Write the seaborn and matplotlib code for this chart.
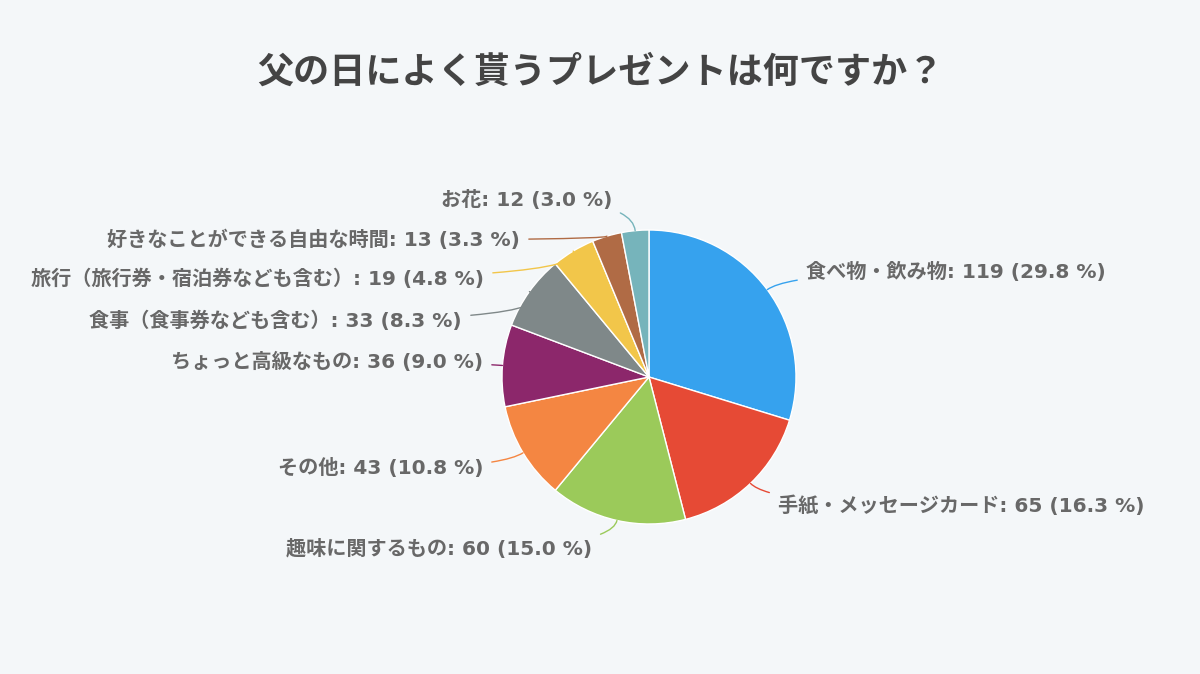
import numpy as np
import matplotlib
matplotlib.use("Agg")
import matplotlib.pyplot as plt
import seaborn as sns

# data
categories = [
    "食べ物・飲み物",
    "手紙・メッセージカード",
    "趣味に関するもの",
    "その他",
    "ちょっと高級なもの",
    "食事（食事券なども含む）",
    "旅行（旅行券・宿泊券なども含む）",
    "好きなことができる自由な時間",
    "お花",
]
counts = [119, 65, 60, 43, 36, 33, 19, 13, 12]
colors = ["#36a2ee", "#e64a35", "#9bca5a", "#f48642", "#8c276b",
          "#7f8889", "#f2c64a", "#b06b45", "#76b4bb"]

# label anchor positions in pixels (x, y from top, alignment)
label_pos = [
    (806, 272, "left"),
    (778, 506, "left"),
    (592, 549, "right"),
    (483, 468, "right"),
    (483, 362, "right"),
    (462, 321, "right"),
    (484, 279, "right"),
    (520, 240, "right"),
    (612, 200, "right"),
]

W, H = 1200, 674
bg = "#f4f7f9"

sns.set_theme(style="white")
plt.rcParams["font.family"] = ["Noto Sans CJK JP", "DejaVu Sans"]

fig = plt.figure(figsize=(W / 100, H / 100), dpi=100, facecolor=bg)
ax = fig.add_axes([0, 0, 1, 1])
ax.set_facecolor(bg)

cx, cy, r = 649, H - 377, 147
wedges, _ = ax.pie(counts, colors=colors, startangle=90, counterclock=False,
                   center=(cx, cy), radius=r, frame=True,
                   wedgeprops=dict(edgecolor="white", linewidth=1))
ax.set_xlim(0, W)
ax.set_ylim(0, H)
ax.set_aspect("equal")
ax.axis("off")

total = sum(counts)
for w, cat, n, col, (tx, ty, ha) in zip(wedges, categories, counts, colors, label_pos):
    ang = np.deg2rad((w.theta1 + w.theta2) / 2)
    ex, ey = cx + r * np.cos(ang), cy + r * np.sin(ang)
    # round half up like the original (16.25 -> 16.3)
    pct = np.floor(n * 1000 / total + 0.5) / 10
    txt = f"{cat}: {n} ({pct:.1f} %)"
    ax.annotate(txt, xy=(ex, ey), xytext=(tx, H - ty), ha=ha, va="center",
                fontsize=14.5, fontweight="bold", color="#686868",
                family=["DejaVu Sans", "Noto Sans CJK JP"],
                arrowprops=dict(arrowstyle="-", color=col, lw=1,
                                shrinkA=4, shrinkB=0,
                                connectionstyle="angle3,angleA=0,angleB=%d"
                                % int(np.rad2deg(ang))))

ax.text(W / 2, H - 72, "父の日によく貰うプレゼントは何ですか？", ha="center",
        va="center", fontsize=26, fontweight="bold", color="#444444")

fig.savefig("out.png", dpi=100, facecolor=bg)
